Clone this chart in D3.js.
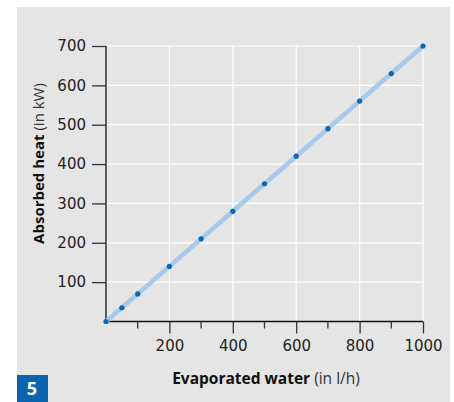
<!DOCTYPE html>
<html>
<head>
<meta charset="utf-8">
<script src="https://d3js.org/d3.v7.min.js"></script>
<style>
  body { margin: 0; background: #fff; }
  text { font-family: "Open Sans", "Noto Sans", sans-serif; }
</style>
</head>
<body>
<svg id="chart" width="454" height="402"></svg>
<script>
// data: evaporated water (l/h) vs absorbed heat (kW)
var water = [0, 50, 100, 200, 300, 400, 500, 600, 700, 800, 900, 1000];
var heat  = [0, 35, 70, 140, 210, 280, 350, 420, 490, 560, 630, 700];
var xTicks = [200, 400, 600, 800, 1000];
var xMinor = [100, 300, 500, 700, 900];
var yTicks = [100, 200, 300, 400, 500, 600, 700];

var svg = d3.select('#chart');

// gray panel
svg.append('rect')
  .attr('x', 17).attr('y', 7)
  .attr('width', 433).attr('height', 395)
  .attr('fill', '#e4e5e4');

var x = d3.scaleLinear().domain([0, 1000]).range([106, 423]);
var y = d3.scaleLinear().domain([0, 700]).range([321.5, 46]);

// grid
svg.append('g').selectAll('line')
  .data(xTicks)
  .enter().append('line')
    .attr('x1', function(d) { return x(d); })
    .attr('x2', function(d) { return x(d); })
    .attr('y1', y(0)).attr('y2', y(700))
    .attr('stroke', '#fff').attr('stroke-width', 1.2);

svg.append('g').selectAll('line')
  .data(yTicks)
  .enter().append('line')
    .attr('x1', x(0)).attr('x2', x(1000))
    .attr('y1', function(d) { return y(d); })
    .attr('y2', function(d) { return y(d); })
    .attr('stroke', '#fff').attr('stroke-width', 1.2);

// x axis
var xAxis = svg.append('g')
  .attr('transform', 'translate(0,' + y(0) + ')')
  .call(d3.axisBottom(x).tickValues(xTicks).tickFormat(d3.format('d')).tickSize(12).tickPadding(7));
xAxis.append('g').selectAll('line')
  .data(xMinor)
  .enter().append('line')
    .attr('x1', function(d) { return x(d); })
    .attr('x2', function(d) { return x(d); })
    .attr('y1', 0).attr('y2', 7)
    .attr('stroke', '#333').attr('stroke-width', 1.3);

// y axis
var yAxis = svg.append('g')
  .attr('transform', 'translate(' + x(0) + ',0)')
  .call(d3.axisLeft(y).tickValues(yTicks).tickSize(14).tickPadding(6));

[xAxis, yAxis].forEach(function(a) {
  a.attr('font-size', 15).attr('font-family', '"DejaVu Sans", sans-serif');
  a.select('.domain').attr('stroke', '#111').attr('stroke-width', 1.3);
  a.selectAll('.tick line').attr('stroke', '#333').attr('stroke-width', 1.3);
  a.selectAll('.tick text').attr('fill', '#222')
    .style('font-family', '"DejaVu Sans", sans-serif').style('font-size', '15px');
});
xAxis.select('.domain').attr('d', 'M' + x(0) + ',0H' + x(1000));
yAxis.select('.domain').attr('d', 'M0,' + y(0) + 'V' + y(700));

// line
var line = d3.line()
  .x(function(d, i) { return x(water[i]); })
  .y(function(d, i) { return y(heat[i]); });
svg.append('path')
  .datum(heat)
  .attr('d', line)
  .attr('fill', 'none')
  .attr('stroke', '#a7c9ea')
  .attr('stroke-width', 4.5);

// points
svg.append('g').selectAll('circle')
  .data(heat)
  .enter().append('circle')
    .attr('cx', function(d, i) { return x(water[i]); })
    .attr('cy', function(d) { return y(d); })
    .attr('r', 2.6)
    .attr('fill', '#0a68b4');

// axis labels
var xl = svg.append('text')
  .attr('x', 266).attr('y', 384)
  .attr('text-anchor', 'middle')
  .attr('fill', '#111')
  .style('font-size', '15.5px');
xl.append('tspan').attr('font-weight', 'bold').text('Evaporated water');
xl.append('tspan').attr('fill', '#333').text(' (in l/h)');

var yl = svg.append('text')
  .attr('transform', 'translate(44,163.5) rotate(-90)')
  .attr('text-anchor', 'middle')
  .attr('fill', '#111')
  .style('font-size', '15px');
yl.append('tspan').attr('font-weight', 'bold').text('Absorbed heat');
yl.append('tspan').attr('fill', '#333').text(' (in kW)');

// figure number box
svg.append('rect')
  .attr('x', 17).attr('y', 375)
  .attr('width', 31).attr('height', 27)
  .attr('fill', '#0a64ae');
svg.append('text')
  .attr('x', 32).attr('y', 395)
  .attr('text-anchor', 'middle')
  .attr('fill', '#fff')
  .attr('font-weight', 'bold')
  .style('font-size', '18px')
  .text('5');
</script>
</body>
</html>
